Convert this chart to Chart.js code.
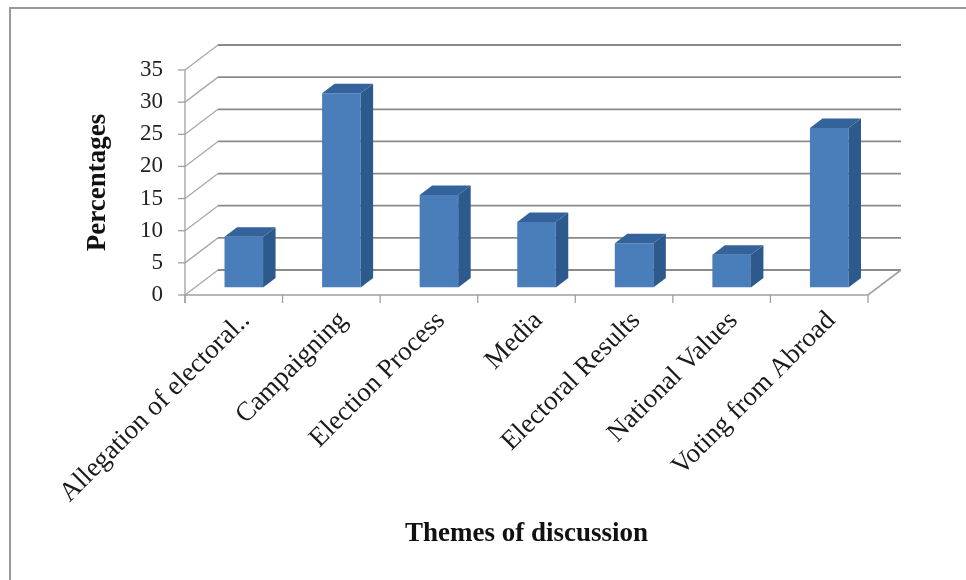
<!DOCTYPE html>
<html>
<head>
<meta charset="utf-8">
<script src="https://cdn.jsdelivr.net/npm/chart.js@4.4.1/dist/chart.umd.min.js"></script>
<style>
  html, body { margin: 0; padding: 0; background: #ffffff; }
  #wrap { width: 966px; height: 580px; position: relative; }
</style>
</head>
<body>
<div id="wrap"><canvas id="c" width="966" height="580"></canvas></div>
<script>
// ---- data ----
const categories = [
  'Allegation of electoral..',
  'Campaigning',
  'Election Process',
  'Media',
  'Electoral Results',
  'National Values',
  'Voting from Abroad'
];
const percentages = [7.9, 30.2, 14.4, 10.2, 6.9, 5.1, 24.8];
const yTickValues = [0, 5, 10, 15, 20, 25, 30, 35];
const yAxisTitle = 'Percentages';
const xAxisTitle = 'Themes of discussion';

// ---- 3D look (style only) ----
const WALL_DX = 33, WALL_DY = -25;     // depth of the chart box
const BAR_SHIFT_X = 10, BAR_SHIFT_Y = -7.5; // bars sit a bit back in the box
const BAR_DX = 12.5, BAR_DY = -9.5;    // depth of each bar
const FRONT = '#4A7EBB', SIDE = '#2D5A8D', TOP = '#34629A';

const frame3d = {
  id: 'frame3d',
  beforeDraw(chart) {
    const ctx = chart.ctx;
    ctx.save();
    ctx.strokeStyle = '#9a9a9a';
    ctx.lineWidth = 2;
    ctx.strokeRect(10, 8, 1100, 700);
    ctx.restore();
  },
  beforeDatasetsDraw(chart) {
    const ctx = chart.ctx;
    const y = chart.scales.y;
    const L = chart.chartArea.left, R = chart.chartArea.right;
    const B = y.getPixelForValue(0);
    const T = y.getPixelForValue(35);
    ctx.save();
    // left wall diagonals
    ctx.strokeStyle = '#a8a8a8';
    ctx.lineWidth = 1.3;
    yTickValues.forEach(v => {
      const py = y.getPixelForValue(v);
      ctx.beginPath();
      ctx.moveTo(L, py);
      ctx.lineTo(L + WALL_DX, py + WALL_DY);
      ctx.stroke();
    });
    // back wall gridlines
    ctx.strokeStyle = '#8a8a8a';
    ctx.lineWidth = 1.8;
    yTickValues.forEach(v => {
      const py = y.getPixelForValue(v) + WALL_DY;
      ctx.beginPath();
      ctx.moveTo(L + WALL_DX, py);
      ctx.lineTo(R + WALL_DX, py);
      ctx.stroke();
    });
    // front vertical axis line + tick marks
    ctx.strokeStyle = '#a0a0a0';
    ctx.lineWidth = 1.3;
    ctx.beginPath();
    ctx.moveTo(L, T);
    ctx.lineTo(L, B + 8);
    ctx.stroke();
    yTickValues.forEach(v => {
      const py = y.getPixelForValue(v);
      ctx.beginPath();
      ctx.moveTo(L - 7, py);
      ctx.lineTo(L, py);
      ctx.stroke();
    });
    // floor front edge and right edge
    ctx.lineWidth = 1.6;
    ctx.beginPath();
    ctx.moveTo(L, B);
    ctx.lineTo(R, B);
    ctx.lineTo(R + WALL_DX, B + WALL_DY);
    ctx.stroke();
    // category boundary tick marks
    ctx.lineWidth = 1.3;
    const n = categories.length;
    for (let i = 0; i <= n; i++) {
      const px = L + (R - L) * i / n;
      ctx.beginPath();
      ctx.moveTo(px, B);
      ctx.lineTo(px, B + 8);
      ctx.stroke();
    }
    ctx.restore();
    // bars get drawn a bit deeper in the box
    ctx.save();
    ctx.translate(BAR_SHIFT_X, BAR_SHIFT_Y);
  },
  afterDatasetsDraw(chart) {
    const ctx = chart.ctx;
    const meta = chart.getDatasetMeta(0);
    meta.data.forEach(el => {
      const p = el.getProps(['x', 'y', 'base', 'width'], true);
      const l = p.x - p.width / 2, r = p.x + p.width / 2;
      ctx.fillStyle = SIDE;
      ctx.beginPath();
      ctx.moveTo(r, p.y);
      ctx.lineTo(r + BAR_DX, p.y + BAR_DY);
      ctx.lineTo(r + BAR_DX, p.base + BAR_DY);
      ctx.lineTo(r, p.base);
      ctx.closePath();
      ctx.fill();
      ctx.fillStyle = TOP;
      ctx.beginPath();
      ctx.moveTo(l, p.y);
      ctx.lineTo(l + BAR_DX, p.y + BAR_DY);
      ctx.lineTo(r + BAR_DX, p.y + BAR_DY);
      ctx.lineTo(r, p.y);
      ctx.closePath();
      ctx.fill();
    });
    ctx.restore();
  }
};

new Chart(document.getElementById('c'), {
  type: 'bar',
  data: {
    labels: categories,
    datasets: [{
      label: yAxisTitle,
      data: percentages,
      backgroundColor: FRONT,
      borderWidth: 0,
      barPercentage: 0.395,
      categoryPercentage: 1.0
    }]
  },
  options: {
    responsive: false,
    animation: false,
    devicePixelRatio: 1,
    layout: { padding: { left: 0, right: 98, top: 70, bottom: 0 } },
    plugins: {
      legend: { display: false },
      tooltip: { enabled: false },
      title: { display: false }
    },
    scales: {
      x: {
        type: 'category',
        grid: { display: false, drawTicks: false },
        border: { display: false },
        ticks: {
          autoSkip: false,
          minRotation: 45,
          maxRotation: 45,
          padding: 10,
          labelOffset: 12,
          color: '#1a1a1a',
          font: { family: "'Liberation Serif', 'Times New Roman', serif", size: 27 }
        },
        title: {
          display: true,
          text: xAxisTitle,
          color: '#111',
          padding: { top: 4, bottom: 30 },
          font: { family: "'Liberation Serif', 'Times New Roman', serif", size: 27, weight: 'bold' }
        },
        afterFit(s) { s.height = 285; }
      },
      y: {
        type: 'linear',
        min: 0,
        max: 35,
        afterBuildTicks(s) { s.ticks = yTickValues.map(v => ({ value: v })); },
        grid: { display: false, drawTicks: false },
        border: { display: false },
        ticks: {
          padding: 22,
          color: '#222',
          font: { family: "'Liberation Serif', 'Times New Roman', serif", size: 23 }
        },
        title: {
          display: true,
          text: yAxisTitle,
          color: '#111',
          padding: { top: 82, bottom: 4 },
          font: { family: "'Liberation Serif', 'Times New Roman', serif", size: 27, weight: 'bold' }
        },
        afterFit(s) { s.width = 185; }
      }
    }
  },
  plugins: [frame3d]
});
</script>
</body>
</html>
